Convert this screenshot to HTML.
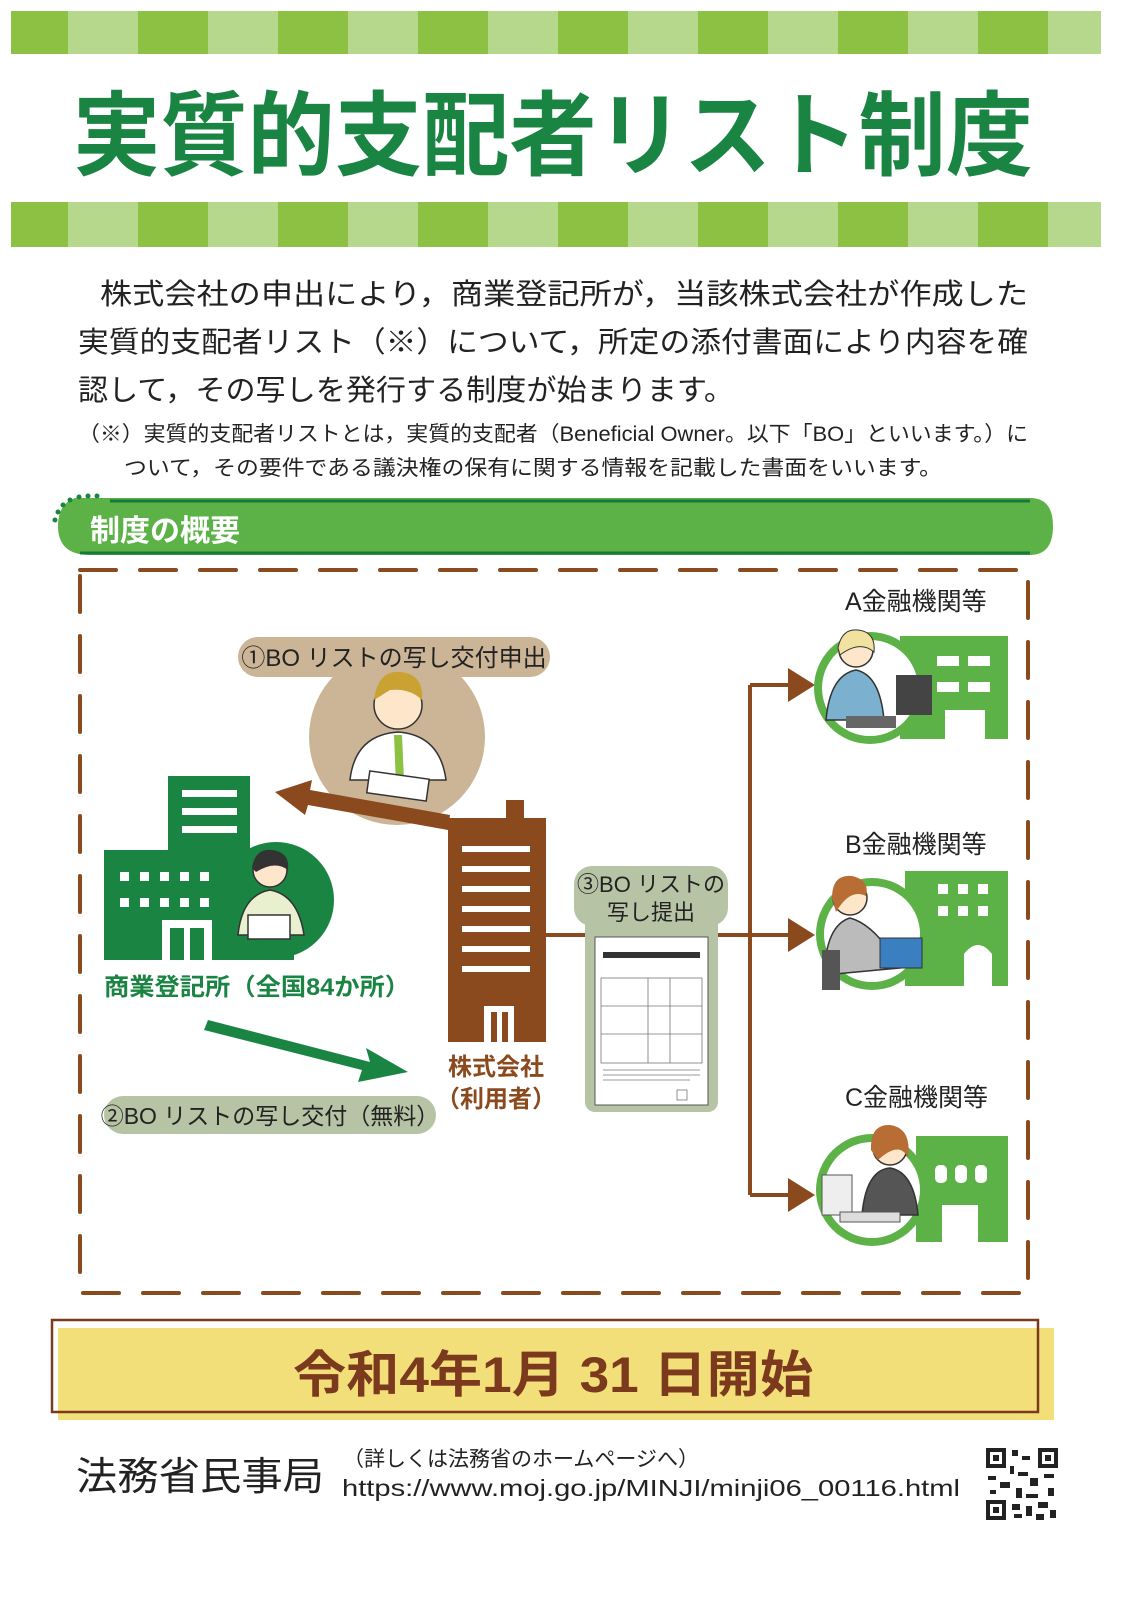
<!DOCTYPE html>
<html><head><meta charset="utf-8"><style>
html,body{margin:0;padding:0;background:#fff;overflow:hidden;width:1131px;height:1600px;}
svg{display:block;}
svg text{font-family:"Liberation Sans","Noto Sans CJK JP",sans-serif;}
</style></head><body>
<svg width="1131" height="1600" viewBox="0 0 1131 1600" xmlns="http://www.w3.org/2000/svg">
<defs>
<pattern id="st" x="-2" y="0" width="140" height="60" patternUnits="userSpaceOnUse">
<rect x="0" y="0" width="70" height="60" fill="#8cc144"/><rect x="70" y="0" width="70" height="60" fill="#b6d88c"/>
</pattern>
</defs>
<rect x="11" y="11" width="1090" height="43" fill="url(#st)"/>
<rect x="11" y="202" width="1090" height="45" fill="url(#st)"/>
<text x="553" y="168" text-anchor="middle" font-size="92" font-weight="bold" fill="#1a8443" textLength="960" lengthAdjust="spacingAndGlyphs">実質的支配者リスト制度</text>

<g font-size="29" fill="#222">
<text x="100" y="304" textLength="928" lengthAdjust="spacingAndGlyphs">株式会社の申出により，商業登記所が，当該株式会社が作成した</text>
<text x="78" y="352" textLength="950" lengthAdjust="spacingAndGlyphs">実質的支配者リスト（※）について，所定の添付書面により内容を確</text>
<text x="78" y="400" textLength="656" lengthAdjust="spacingAndGlyphs">認して，その写しを発行する制度が始まります。</text>
</g>
<g font-size="21" fill="#222">
<text x="78" y="441" textLength="950" lengthAdjust="spacingAndGlyphs">（※）実質的支配者リストとは，実質的支配者（Beneficial Owner。以下「BO」といいます。）に</text>
<text x="124" y="475" textLength="818" lengthAdjust="spacingAndGlyphs">ついて，その要件である議決権の保有に関する情報を記載した書面をいいます。</text>
</g>

<path d="M75 498 H1030 Q1053 498 1053 526 Q1053 555 1030 555 H90 Q58 555 58 526 Q58 504 75 498 Z" fill="#5cb247"/>
<line x1="110" y1="501" x2="1030" y2="501" stroke="#157a3a" stroke-width="3"/>
<line x1="80" y1="553" x2="1030" y2="553" stroke="#157a3a" stroke-width="3"/>
<g fill="#1a8443"><circle cx="97" cy="496" r="2.5"/><circle cx="88" cy="496" r="2.5"/><circle cx="79" cy="497" r="2.5"/><circle cx="70" cy="500" r="2.5"/><circle cx="63" cy="505" r="2.5"/><circle cx="58" cy="512" r="2.5"/><circle cx="55" cy="520" r="2.5"/></g>
<text x="90" y="541" font-size="30" font-weight="bold" fill="#fff">制度の概要</text>

<rect x="80" y="570" width="948" height="723" fill="none" stroke="#8b4a1e" stroke-width="4" stroke-dasharray="36 24" stroke-linecap="round"/>

<circle cx="397" cy="737" r="88" fill="#cbb596"/>
<rect x="238" y="637" width="312" height="40" rx="20" fill="#cbb596"/>
<text x="394" y="666" text-anchor="middle" font-size="24" fill="#222">①BO リストの写し交付申出</text>
<circle cx="398" cy="705" r="24" fill="#fde6c9" stroke="#333" stroke-width="1.5"/>
<path d="M374 700 Q378 670 400 672 Q424 674 422 700 Q410 688 390 690 Z" fill="#c9a233"/>
<path d="M350 780 Q355 735 398 732 Q440 735 446 780 Z" fill="#fff" stroke="#333" stroke-width="1.5"/>
<path d="M394 735 L402 735 L404 780 L396 785 Z" fill="#8cc144"/>
<rect x="368" y="775" width="60" height="22" fill="#fff" stroke="#333" stroke-width="1.5" transform="rotate(8 398 786)"/>

<polygon points="450,815 310,790 312,780 275,792 305,815 308,805 448,830" fill="#8b4a1e"/>

<g fill="#1a8443">
<rect x="168" y="776" width="82" height="85"/>
<rect x="104" y="850" width="190" height="110"/>
</g>
<g fill="#fff">
<rect x="182" y="790" width="55" height="7"/><rect x="182" y="808" width="55" height="7"/><rect x="182" y="826" width="55" height="7"/>
<rect x="120" y="872" width="9" height="9"/><rect x="140" y="872" width="9" height="9"/><rect x="160" y="872" width="9" height="9"/><rect x="180" y="872" width="9" height="9"/><rect x="200" y="872" width="9" height="9"/>
<rect x="120" y="898" width="9" height="9"/><rect x="140" y="898" width="9" height="9"/><rect x="160" y="898" width="9" height="9"/><rect x="180" y="898" width="9" height="9"/><rect x="200" y="898" width="9" height="9"/>
<rect x="162" y="920" width="50" height="40"/>
</g>
<rect x="170" y="928" width="14" height="32" fill="#1a8443"/><rect x="190" y="928" width="14" height="32" fill="#1a8443"/>
<circle cx="276" cy="900" r="58" fill="#1a8443"/>
<circle cx="270" cy="870" r="17" fill="#fde6c9" stroke="#333" stroke-width="1.5"/>
<path d="M252 868 Q255 848 272 850 Q290 852 288 870 Q275 860 256 872 Z" fill="#333"/>
<path d="M238 935 Q242 895 270 890 Q298 895 304 935 Z" fill="#e8f0d0" stroke="#333" stroke-width="1.5"/>
<rect x="248" y="915" width="42" height="24" fill="#fff" stroke="#333" stroke-width="1.5"/>
<text x="104" y="995" font-size="24" fill="#1a8443" font-weight="bold" textLength="306" lengthAdjust="spacingAndGlyphs">商業登記所（全国84か所）</text>

<polygon points="208,1020 370,1062 366,1048 408,1072 358,1082 362,1070 204,1030" fill="#1a8443"/>
<rect x="104" y="1096" width="332" height="38" rx="19" fill="#b7c3a5"/>
<text x="270" y="1124" text-anchor="middle" font-size="23" fill="#222">②BO リストの写し交付（無料）</text>

<rect x="448" y="818" width="98" height="224" fill="#8b4a1e"/>
<rect x="506" y="800" width="18" height="22" fill="#8b4a1e"/>
<g fill="#fff">
<rect x="462" y="846" width="68" height="6"/><rect x="462" y="866" width="68" height="6"/><rect x="462" y="886" width="68" height="6"/><rect x="462" y="906" width="68" height="6"/><rect x="462" y="926" width="68" height="6"/><rect x="462" y="946" width="68" height="6"/><rect x="462" y="966" width="68" height="6"/>
<rect x="484" y="1006" width="30" height="36"/>
</g>
<rect x="491" y="1012" width="6" height="30" fill="#8b4a1e"/><rect x="502" y="1012" width="6" height="30" fill="#8b4a1e"/>
<text x="496" y="1075" text-anchor="middle" font-size="24" font-weight="bold" fill="#8b4a1e">株式会社</text>
<text x="496" y="1107" text-anchor="middle" font-size="24" font-weight="bold" fill="#8b4a1e">（利用者）</text>

<line x1="546" y1="935" x2="600" y2="935" stroke="#8b4a1e" stroke-width="4"/>
<line x1="715" y1="935" x2="790" y2="935" stroke="#8b4a1e" stroke-width="4"/>
<line x1="750" y1="685" x2="750" y2="1195" stroke="#8b4a1e" stroke-width="4"/>
<line x1="750" y1="685" x2="790" y2="685" stroke="#8b4a1e" stroke-width="4"/>
<line x1="750" y1="1195" x2="790" y2="1195" stroke="#8b4a1e" stroke-width="4"/>
<polygon points="788,668 815,685 788,702" fill="#8b4a1e"/>
<polygon points="788,918 815,935 788,952" fill="#8b4a1e"/>
<polygon points="788,1178 815,1195 788,1212" fill="#8b4a1e"/>

<rect x="574" y="866" width="154" height="60" rx="18" fill="#b7c3a5"/>
<rect x="585" y="910" width="133" height="202" rx="10" fill="#b7c3a5"/>
<text x="651" y="892" text-anchor="middle" font-size="22" fill="#222">③BO リストの</text>
<text x="651" y="920" text-anchor="middle" font-size="22" fill="#222">写し提出</text>
<rect x="595" y="937" width="113" height="168" fill="#fff" stroke="#555" stroke-width="1"/>
<rect x="603" y="952" width="97" height="6" fill="#333"/>
<g stroke="#777" stroke-width="0.8" fill="none">
<rect x="601" y="978" width="101" height="85"/>
<line x1="601" y1="1006" x2="702" y2="1006"/><line x1="601" y1="1034" x2="702" y2="1034"/>
<line x1="648" y1="978" x2="648" y2="1063"/><line x1="670" y1="978" x2="670" y2="1063"/>
<line x1="603" y1="1070" x2="700" y2="1070"/><line x1="603" y1="1075" x2="700" y2="1075"/><line x1="603" y1="1080" x2="690" y2="1080"/>
<rect x="677" y="1090" width="10" height="10"/>
</g>

<g font-size="25" fill="#222">
<text x="845" y="610">A金融機関等</text>
<text x="845" y="853">B金融機関等</text>
<text x="845" y="1106">C金融機関等</text>
</g>
<rect x="900" y="636" width="108" height="103" fill="#5cb247"/>
<g fill="#fff"><rect x="937" y="656" width="22" height="10"/><rect x="968" y="656" width="22" height="10"/><rect x="937" y="682" width="22" height="10"/><rect x="968" y="682" width="22" height="10"/><rect x="945" y="710" width="40" height="29"/></g>
<circle cx="870" cy="688" r="56" fill="#5cb247"/>
<circle cx="870" cy="688" r="48" fill="#fff"/>
<circle cx="856" cy="650" r="17" fill="#fde6c9" stroke="#333" stroke-width="1.5"/>
<path d="M838 648 Q842 628 858 630 Q876 632 874 652 Q860 640 840 655 Z" fill="#f2e2a0" stroke="#333"/>
<path d="M826 720 Q830 675 856 670 Q880 675 884 720 Z" fill="#7cb0cf" stroke="#333" stroke-width="1.5"/>
<rect x="896" y="675" width="36" height="40" fill="#444"/>
<rect x="846" y="716" width="50" height="12" fill="#666"/>
<rect x="905" y="871" width="103" height="115" fill="#5cb247"/>
<g fill="#fff"><rect x="938" y="884" width="10" height="10"/><rect x="958" y="884" width="10" height="10"/><rect x="978" y="884" width="10" height="10"/><rect x="938" y="906" width="10" height="10"/><rect x="958" y="906" width="10" height="10"/><rect x="978" y="906" width="10" height="10"/>
<path d="M964 986 V954 Q978 936 992 954 V986 Z"/></g>
<circle cx="872" cy="934" r="56" fill="#5cb247"/>
<circle cx="872" cy="934" r="48" fill="#fff"/>
<circle cx="850" cy="898" r="17" fill="#fde6c9" stroke="#333" stroke-width="1.5"/>
<path d="M832 898 Q832 874 852 876 Q870 880 866 896 Q850 888 836 912 Z" fill="#b86d35"/>
<path d="M824 975 Q826 925 850 918 Q876 925 900 968 Z" fill="#bbb" stroke="#333" stroke-width="1.5"/>
<rect x="880" y="938" width="42" height="30" fill="#3a7fc0" stroke="#333"/>
<rect x="822" y="950" width="18" height="40" fill="#555"/>
<rect x="916" y="1136" width="92" height="106" fill="#5cb247"/>
<g fill="#fff"><rect x="935" y="1165" width="12" height="18" rx="5"/><rect x="955" y="1165" width="12" height="18" rx="5"/><rect x="975" y="1165" width="12" height="18" rx="5"/><rect x="942" y="1205" width="36" height="37"/></g>
<circle cx="872" cy="1190" r="56" fill="#5cb247"/>
<circle cx="872" cy="1190" r="48" fill="#fff"/>
<circle cx="890" cy="1148" r="17" fill="#fde6c9" stroke="#333" stroke-width="1.5"/>
<path d="M871 1150 Q870 1124 890 1125 Q912 1128 908 1158 Q900 1140 878 1160 Z" fill="#b86d35"/>
<path d="M862 1215 Q866 1170 890 1168 Q914 1172 918 1215 Z" fill="#555" stroke="#333" stroke-width="1.5"/>
<rect x="822" y="1175" width="30" height="40" fill="#eee" stroke="#555"/>
<rect x="840" y="1212" width="60" height="10" fill="#ddd" stroke="#555"/>

<rect x="58" y="1328" width="996" height="92" fill="#f3df7a"/>
<rect x="52" y="1320" width="986" height="92" fill="none" stroke="#7b3a1e" stroke-width="2.5"/>
<text x="553" y="1392" text-anchor="middle" font-size="50" font-weight="bold" fill="#7b3a1e" textLength="520" lengthAdjust="spacingAndGlyphs">令和4年1月 31 日開始</text>

<text x="76" y="1490" font-size="39" fill="#222" textLength="248" lengthAdjust="spacingAndGlyphs">法務省民事局</text>
<text x="343" y="1466" font-size="21" fill="#222">（詳しくは法務省のホームページへ）</text>
<text x="342" y="1496" font-size="23" fill="#222" textLength="618" lengthAdjust="spacingAndGlyphs">https://www.moj.go.jp/MINJI/minji06_00116.html</text>
<g fill="#222">
<rect x="986" y="1448" width="72" height="72" fill="#fff"/>
<rect x="986" y="1448" width="20" height="20"/><rect x="990" y="1452" width="12" height="12" fill="#fff"/><rect x="993" y="1455" width="6" height="6"/>
<rect x="1038" y="1448" width="20" height="20"/><rect x="1042" y="1452" width="12" height="12" fill="#fff"/><rect x="1045" y="1455" width="6" height="6"/>
<rect x="986" y="1500" width="20" height="20"/><rect x="990" y="1504" width="12" height="12" fill="#fff"/><rect x="993" y="1507" width="6" height="6"/>
<rect x="1012" y="1450" width="6" height="6"/><rect x="1022" y="1456" width="8" height="4"/><rect x="1010" y="1466" width="4" height="8"/><rect x="1018" y="1472" width="10" height="4"/>
<rect x="988" y="1476" width="8" height="4"/><rect x="1000" y="1482" width="10" height="6"/><rect x="1030" y="1478" width="8" height="8"/><rect x="1044" y="1474" width="10" height="4"/>
<rect x="1016" y="1488" width="6" height="10"/><rect x="1026" y="1494" width="12" height="4"/><rect x="1048" y="1488" width="6" height="8"/><rect x="990" y="1490" width="6" height="4"/>
<rect x="1012" y="1504" width="8" height="6"/><rect x="1026" y="1506" width="6" height="10"/><rect x="1038" y="1502" width="10" height="6"/><rect x="1050" y="1510" width="6" height="8"/><rect x="1014" y="1514" width="8" height="4"/><rect x="1036" y="1514" width="8" height="6"/>
</g>
</svg>
</body></html>
